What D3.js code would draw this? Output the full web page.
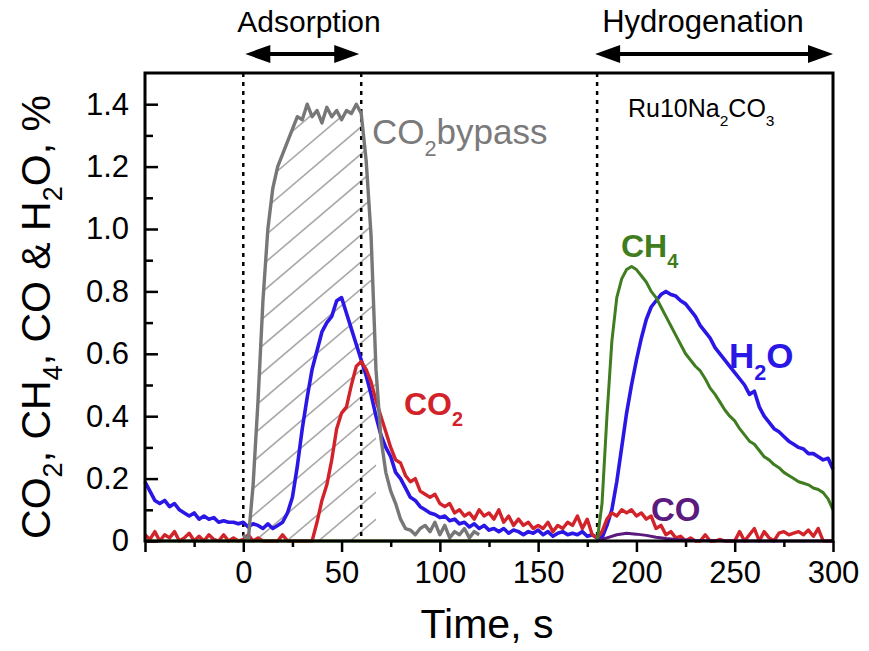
<!DOCTYPE html>
<html>
<head>
<meta charset="utf-8">
<script src="https://cdn.jsdelivr.net/npm/d3@7"></script>
<style>
  body { margin: 0; background: #fff; }
  svg { display: block; font-family: "Liberation Sans", Arial, sans-serif; }
</style>
</head>
<body>
<svg width="869" height="651"></svg>
<script>
// time grid for the sampled signals (s)
const tGrid = d3.range(-50, 302.5, 2.5);

// H2O, %
const h2oVals = [
  0.19, 0.16, 0.13, 0.12, 0.13, 0.11, 0.12, 0.10, 0.09, 0.08,
  0.09, 0.07, 0.08, 0.07, 0.075, 0.06, 0.065, 0.06, 0.06, 0.055,
  0.06, 0.045, 0.055, 0.05, 0.04, 0.055, 0.04, 0.05, 0.06, 0.09,
  0.14, 0.24, 0.36, 0.46, 0.55, 0.61, 0.67, 0.70, 0.72, 0.77,
  0.78, 0.73, 0.68, 0.63, 0.58, 0.53, 0.47, 0.40, 0.34, 0.30,
  0.27, 0.22, 0.20, 0.17, 0.14, 0.13, 0.11, 0.10, 0.09, 0.085,
  0.075, 0.08, 0.065, 0.07, 0.055, 0.06, 0.045, 0.055, 0.04, 0.05,
  0.035, 0.04, 0.03, 0.04, 0.025, 0.035, 0.03, 0.02, 0.03, 0.025,
  0.035, 0.02, 0.03, 0.015, 0.025, 0.03, 0.02, 0.025, 0.02, 0.03,
  0.015, 0.02, 0.01, 0.01, 0.05, 0.10, 0.19, 0.30, 0.41, 0.50,
  0.58, 0.65, 0.71, 0.75, 0.77, 0.79, 0.80, 0.79, 0.785, 0.77,
  0.76, 0.74, 0.72, 0.69, 0.67, 0.65, 0.62, 0.60, 0.58, 0.56,
  0.54, 0.52, 0.50, 0.47, 0.48, 0.43, 0.40, 0.38, 0.36, 0.35,
  0.335, 0.32, 0.31, 0.30, 0.295, 0.28, 0.28, 0.27, 0.26, 0.265,
  0.23
];

// CO2 at the outlet, %
const co2Vals = [
  0.02, 0.005, 0.03, 0.0, 0.02, 0.01, 0.03, 0.0, 0.01, 0.025,
  0.0, 0.015, 0.0, 0.02, 0.005, 0.0, 0.02, 0.0, 0.01, 0.0,
  0.005, 0.02, 0.0, 0.01, 0.0, 0.0, 0.0, 0.0, 0.02, 0.0,
  0.0, 0.0, 0.0, 0.0, 0.0, 0.06, 0.13, 0.18, 0.26, 0.36,
  0.41, 0.43, 0.50, 0.56, 0.575, 0.55, 0.51, 0.45, 0.40, 0.35,
  0.30, 0.26, 0.25, 0.21, 0.19, 0.20, 0.16, 0.15, 0.14, 0.15,
  0.12, 0.11, 0.12, 0.09, 0.10, 0.08, 0.09, 0.07, 0.10, 0.08,
  0.09, 0.07, 0.10, 0.06, 0.08, 0.05, 0.07, 0.05, 0.06, 0.04,
  0.05, 0.04, 0.06, 0.03, 0.05, 0.04, 0.06, 0.05, 0.08, 0.04,
  0.07, 0.02, 0.01, 0.03, 0.07, 0.09, 0.08, 0.10, 0.09, 0.10,
  0.08, 0.09, 0.07, 0.08, 0.04, 0.05, 0.02, 0.03, 0.01, 0.015,
  0.0, 0.01, 0.0, 0.0, 0.02, 0.0, 0.0, 0.005, 0.0, 0.0,
  0.0, 0.03, 0.0, 0.02, 0.04, 0.0, 0.03, 0.01, 0.0, 0.025,
  0.03, 0.02, 0.025, 0.03, 0.02, 0.035, 0.015, 0.04, 0.0, 0.0,
  0.0
];

// CO2 bypass, 0..120 s
const bypassTime = d3.range(0, 122.5, 2.5);
const bypassVals = [
  0.02, 0.0, 0.18, 0.45, 0.77, 1.0, 1.13, 1.20, 1.24, 1.28,
  1.32, 1.36, 1.35, 1.40, 1.36, 1.38, 1.34, 1.39, 1.36, 1.38,
  1.35, 1.38, 1.37, 1.40, 1.37, 1.22, 0.98, 0.55, 0.33, 0.22,
  0.16, 0.12, 0.07, 0.04, 0.035, 0.02, 0.04, 0.05, 0.03, 0.06,
  0.02, 0.05, 0.01, 0.03, 0.02, 0.04, 0.01, 0.03, 0.02
];

// CH4, %
const ch4Time = [-50].concat(d3.range(180, 302.5, 2.5));
const ch4Vals = [
  0,
  0, 0.12, 0.40, 0.64, 0.78, 0.84, 0.87, 0.88, 0.87, 0.85,
  0.83, 0.80, 0.78, 0.75, 0.72, 0.69, 0.66, 0.63, 0.60, 0.58,
  0.56, 0.545, 0.52, 0.49, 0.47, 0.445, 0.42, 0.40, 0.385, 0.36,
  0.34, 0.32, 0.31, 0.29, 0.27, 0.26, 0.245, 0.235, 0.22, 0.21,
  0.20, 0.19, 0.185, 0.18, 0.17, 0.165, 0.155, 0.135, 0.10
];

// CO, %
const coTime = [180, 185, 190, 195, 200, 205, 210, 215, 220, 230, 250, 300];
const coVals = [0, 0.01, 0.02, 0.025, 0.022, 0.018, 0.012, 0.008, 0.005, 0.002, 0, 0];

const xTicks = d3.range(-50, 325, 25);
const yTicks = d3.range(0, 1.5, 0.1);
const phaseLines = [0, 60, 180];

let svg = d3.select("svg"),
    width = +svg.attr("width"),
    height = +svg.attr("height");

const pLeft = 145, pRight = 833, pTop = 73, pBottom = 541;

let x = d3.scaleLinear().domain([-50, 300]).range([pLeft, pRight]);
let y = d3.scaleLinear().domain([0, 1.5]).range([pBottom, pTop]);

svg.append("rect").attr("width", width).attr("height", height).attr("fill", "white");

function toPts(ts, vs) {
  return ts.map((t, i) => [t, vs[i]]);
}

let line = d3.line().x(d => x(d[0])).y(d => y(d[1]));

// hatched area under the bypass pulse
const hatchPts = toPts(bypassTime, bypassVals).filter(d => d[0] <= 67.5);
let area = d3.area().x(d => x(d[0])).y0(y(0)).y1(d => y(d[1]));
svg.append("clipPath").attr("id", "hatchClip")
  .append("path").attr("d", area(hatchPts));

let hatch = svg.append("g").attr("clip-path", "url(#hatchClip)");
for (let k = -20; k < 30; k++) {
  let y0 = pBottom + k * 27;
  hatch.append("line")
    .attr("x1", x(0) - 20).attr("y1", y0)
    .attr("x2", x(70)).attr("y2", y0 - (x(70) - x(0) + 20) * 0.85)
    .attr("stroke", "#a8a8a8")
    .attr("stroke-width", 1.6);
}

// phase boundaries
svg.selectAll(".phase").data(phaseLines).enter().append("line")
  .attr("x1", d => x(d)).attr("x2", d => x(d))
  .attr("y1", pTop).attr("y2", pBottom)
  .attr("stroke", "black")
  .attr("stroke-width", 2.5)
  .attr("stroke-dasharray", "4 5");

// curves
const series = [
  { pts: toPts(tGrid, h2oVals), color: "#2a17e6", w: 3.6 },
  { pts: toPts(tGrid, co2Vals), color: "#d2232a", w: 3.4 },
  { pts: toPts(bypassTime, bypassVals), color: "#777777", w: 3.4 },
  { pts: toPts(ch4Time, ch4Vals), color: "#3f7d20", w: 3 },
  { pts: toPts(coTime, coVals), color: "#5b1a7d", w: 3 }
];
series.forEach(s => {
  svg.append("path")
    .attr("d", line(s.pts))
    .attr("fill", "none")
    .attr("stroke", s.color)
    .attr("stroke-width", s.w)
    .attr("stroke-linejoin", "round");
});

// axes
let xAxis = svg.append("g")
  .attr("transform", "translate(0," + pBottom + ")")
  .call(d3.axisBottom(x).tickValues(xTicks)
    .tickFormat(d => (d % 50 === 0 && d >= 0) ? d : "")
    .tickSizeOuter(0).tickPadding(8));
xAxis.select(".domain").remove();
xAxis.selectAll(".tick line")
  .attr("stroke-width", 2.5)
  .attr("y2", d => d % 50 === 0 ? 11 : 6);
xAxis.selectAll(".tick text")
  .attr("font-size", 31).attr("font-family", "Liberation Sans, Arial, sans-serif")
  .attr("fill", "black").attr("dy", "0.9em");

let yAxis = svg.append("g")
  .attr("transform", "translate(" + pLeft + ",0)")
  .call(d3.axisLeft(y).tickValues(yTicks)
    .tickFormat(d => {
      let r = Math.round(d * 10);
      if (r % 2) return "";
      return r === 0 ? "0" : d3.format(".1f")(d);
    })
    .tickSizeOuter(0).tickPadding(10));
yAxis.select(".domain").remove();
yAxis.selectAll(".tick line")
  .attr("stroke-width", 2.5)
  .attr("x2", d => Math.round(d * 10) % 2 ? 8 : 13);
yAxis.selectAll(".tick text")
  .attr("font-size", 31).attr("font-family", "Liberation Sans, Arial, sans-serif")
  .attr("fill", "black");

// frame
svg.append("rect")
  .attr("x", pLeft).attr("y", pTop)
  .attr("width", pRight - pLeft).attr("height", pBottom - pTop)
  .attr("fill", "none").attr("stroke", "black").attr("stroke-width", 3);

// axis titles
svg.append("text")
  .attr("x", (pLeft + pRight) / 2 - 2).attr("y", 638)
  .attr("text-anchor", "middle").attr("font-size", 41)
  .text("Time, s");

let yt = svg.append("text")
  .attr("transform", "translate(50," + ((pTop + pBottom) / 2 + 10) + ") rotate(-90)")
  .attr("text-anchor", "middle").attr("font-size", 41);
[["CO", 0], ["2", 1], [", CH", 0], ["4", 1], [", CO & H", 0], ["2", 1], ["O, %", 0]].forEach(p => {
  yt.append("tspan").text(p[0])
    .attr("font-size", p[1] ? 27 : 41)
    .attr("dy", p[1] ? 12 : (p[0] === "CO" ? 0 : -12));
});

// phase arrows
function arrow(x1, x2, yy) {
  svg.append("line")
    .attr("x1", x1 + 10).attr("x2", x2 - 10)
    .attr("y1", yy).attr("y2", yy)
    .attr("stroke", "black").attr("stroke-width", 4);
  svg.append("path")
    .attr("d", "M" + x1 + "," + yy + "L" + (x1 + 25) + "," + (yy - 9) + "L" + (x1 + 25) + "," + (yy + 9) + "Z");
  svg.append("path")
    .attr("d", "M" + x2 + "," + yy + "L" + (x2 - 25) + "," + (yy - 9) + "L" + (x2 - 25) + "," + (yy + 9) + "Z");
}
arrow(x(0) + 2, x(60) - 2, 54);
arrow(x(180) - 2, x(300), 54);

svg.append("text").attr("x", 309).attr("y", 32)
  .attr("text-anchor", "middle").attr("font-size", 30).text("Adsorption");
svg.append("text").attr("x", 703).attr("y", 32)
  .attr("text-anchor", "middle").attr("font-size", 31).text("Hydrogenation");

// labels with subscripts
function subLabel(px, py, parts, size, color, bold) {
  let t = svg.append("text")
    .attr("x", px).attr("y", py)
    .attr("font-size", size)
    .attr("fill", color)
    .attr("font-weight", bold ? "bold" : "normal");
  let down = false;
  parts.forEach(p => {
    let ts = t.append("tspan").text(p[0]);
    if (p[1]) {
      ts.attr("font-size", size * 0.62).attr("dy", size * 0.35);
      down = true;
    } else if (down) {
      ts.attr("dy", -size * 0.35);
      down = false;
    }
  });
}

subLabel(628, 117, [["Ru10Na", 0], ["2", 1], ["CO", 0], ["3", 1]], 25, "black", false);
subLabel(372, 144, [["CO", 0], ["2", 1], ["bypass", 0]], 35, "#7a7a7a", false);
subLabel(404, 415, [["CO", 0], ["2", 1]], 32, "#d2232a", true);
subLabel(621, 257, [["CH", 0], ["4", 1]], 32, "#3f7d20", true);
subLabel(729, 368, [["H", 0], ["2", 1], ["O", 0]], 35, "#2a17e6", true);
subLabel(651, 521, [["CO", 0]], 33, "#5b1a7d", true);
</script>
</body>
</html>
